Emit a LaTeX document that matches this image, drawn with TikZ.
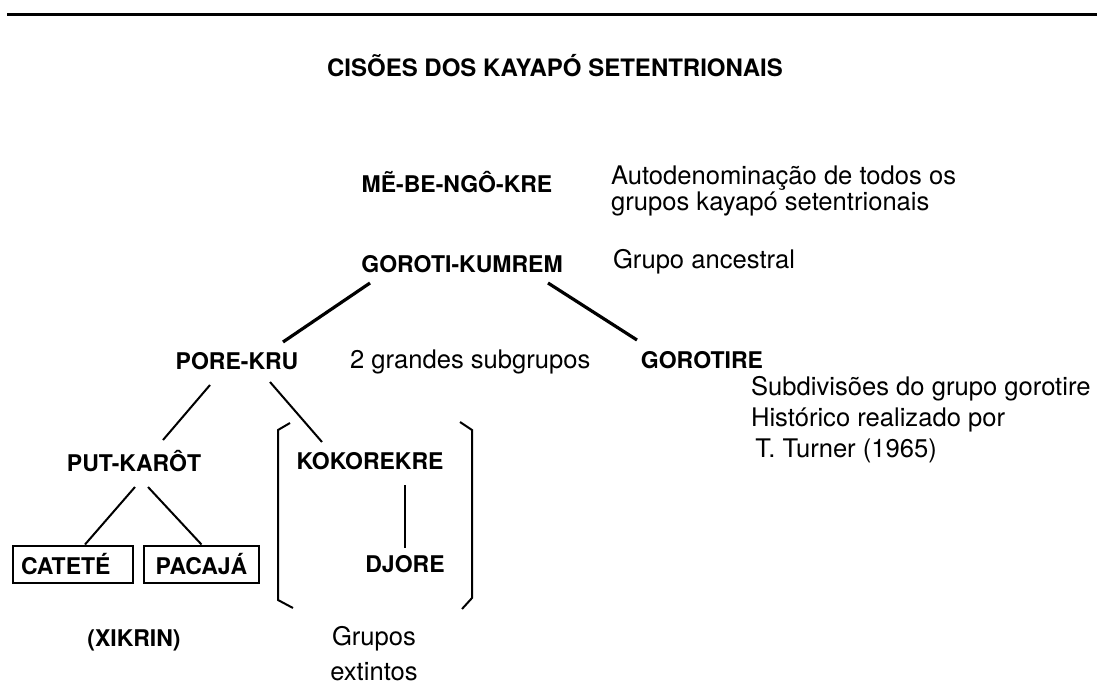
\documentclass[tikz,border=0pt]{standalone}
\usepackage{fontspec}
\setmainfont{TeX Gyre Heros}
\usetikzlibrary{calc}

\tikzset{
    grupo/.style={font=\fontsize{11.5}{13}\selectfont\bfseries},
    nota/.style={font=\fontsize{12.8}{13}\selectfont, align=left, anchor=west},
    linha/.style={line width=1pt},
    linhagrossa/.style={line width=1.6pt},
    caixa/.style={grupo, draw, line width=1pt, minimum height=18.5pt, inner xsep=4pt},
}

\begin{document}
\begin{tikzpicture}[x=0.5pt, y=-0.5pt]
    \useasboundingbox (0,0) rectangle (1097,684);

    \draw[line width=1.5pt] (7,15) -- (1097,15);
    \node[font=\fontsize{12}{14}\selectfont\bfseries] (titulo) at (555,66) {CISÕES DOS KAYAPÓ SETENTRIONAIS};

    \node[grupo] (mebengokre) at (457,182) {MẼ-BE-NGÔ-KRE};
    \node[nota] (auto) at (604,191) {Autodenominação de todos os\\grupos kayapó setentrionais};

    \node[grupo] (gk) at (462,264) {GOROTI-KUMREM};
    \node[nota] (ancestral) at (606,262) {Grupo ancestral};

    \node[grupo] (porekru) at (237,361) {PORE-KRU};
    \node[nota] (subgrupos) at (343,362) {2 grandes subgrupos};
    \node[grupo] (gorotire) at (702,360) {GOROTIRE};
    \node[nota, font=\fontsize{12.8}{15.5}\selectfont] (subdiv) at (744,420) {Subdivisões do grupo gorotire\\Histórico realizado por\\\,T. Turner (1965)};

    \node[grupo] (putkarot) at (134,461) {PUT-KARÔT};
    \node[grupo] (kokorekre) at (370,461) {KOKOREKRE};
    \node[grupo] (djore) at (405,564) {DJORE};

    \node[caixa, text width=52pt, align=left] (catete) at (73,564) {CATETÉ};
    \node[caixa, minimum width=57.5pt] (pacaja) at (201.5,564) {PACAJÁ};

    \node[grupo] (xikrin) at (134,640) {(XIKRIN)};
    \node[nota, anchor=center, align=center, font=\fontsize{12.8}{17.5}\selectfont] (extintos) at (374,654) {Grupos\\extintos};

    \draw[linhagrossa] ($(gk.center)+(-92,19)$) -- ($(porekru.center)+(46,-19)$);
    \draw[linhagrossa] ($(gk.center)+(86,19)$) -- ($(gorotire.center)+(-65,-20)$);
    \draw[linha] ($(porekru.center)+(-27,24)$) -- ($(putkarot.center)+(29,-21)$);
    \draw[linha] ($(porekru.center)+(33,21)$) -- ($(kokorekre.center)+(-48,-19)$);
    \draw[linha] ($(putkarot.center)+(1,26)$) -- ($(catete.north)+(12,0)$);
    \draw[linha] ($(putkarot.center)+(14,26)$) -- (pacaja.north);
    \draw[linha] ($(kokorekre.center)+(35,24)$) -- (djore.north);

    \draw[linha] (290,423) -- (278,430) -- (278,600) -- (293,608);
    \draw[linha] (460,422) -- (472,430) -- (472,598) -- (462,609);
\end{tikzpicture}
\end{document}
